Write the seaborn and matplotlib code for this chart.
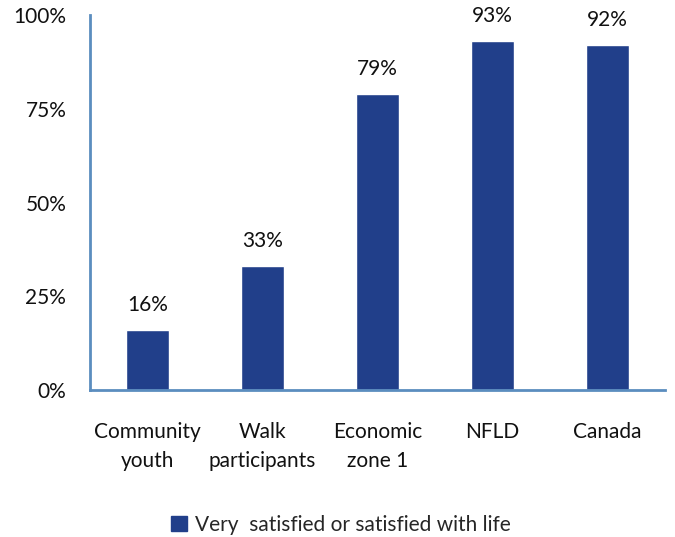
import matplotlib
matplotlib.use("Agg")
import matplotlib.pyplot as plt
from matplotlib.patches import Patch
import seaborn as sns
import pandas as pd

categories = ["Community\nyouth", "Walk\nparticipants", "Economic\nzone 1", "NFLD", "Canada"]
values = [16, 33, 79, 93, 92]
y_ticks = [0, 25, 50, 75, 100]
y_tick_labels = ["0%", "25%", "50%", "75%", "100%"]
series_name = "Very  satisfied or satisfied with life"

bar_color = "#213F8A"
axis_color = "#5B8DBF"
text_color = "#111111"
font_size = 15

sns.set_theme(style="white")
plt.rcParams["font.family"] = ["Lato", "DejaVu Sans"]

df = pd.DataFrame({"category": categories, "value": values})

fig = plt.figure(figsize=(6.75, 5.37), dpi=100)
ax = fig.add_axes([0.1333, 0.2737, 0.852, 0.6983])

sns.barplot(data=df, x="category", y="value", color=bar_color, width=0.37,
            saturation=1, ax=ax)

for patch, v in zip(ax.patches, values):
    ax.text(patch.get_x() + patch.get_width() / 2, v + 4, f"{v}%",
            ha="center", va="bottom", fontsize=font_size, color=text_color)

ax.set_ylim(0, 100)
ax.set_xlim(-0.5, len(categories) - 0.5)
ax.set_yticks(y_ticks)
ax.set_yticklabels(y_tick_labels, fontsize=font_size, color=text_color)
ax.tick_params(axis="x", labelsize=font_size, labelcolor=text_color, pad=23, length=0)
for lbl in ax.get_xticklabels():
    lbl.set_linespacing(1.55)
ax.tick_params(axis="y", pad=17, length=0)
ax.set_xlabel("")
ax.set_ylabel("")

for side in ["top", "right"]:
    ax.spines[side].set_visible(False)
for side in ["left", "bottom"]:
    ax.spines[side].set_color(axis_color)
    ax.spines[side].set_linewidth(2)

handle = Patch(facecolor=bar_color, edgecolor=bar_color)
fig.legend([handle], [series_name], loc="center", bbox_to_anchor=(0.505, 0.023),
           frameon=False, fontsize=font_size, handlelength=0.75, handleheight=0.75,
           handletextpad=0.4)

fig.savefig("out.png", dpi=100)
